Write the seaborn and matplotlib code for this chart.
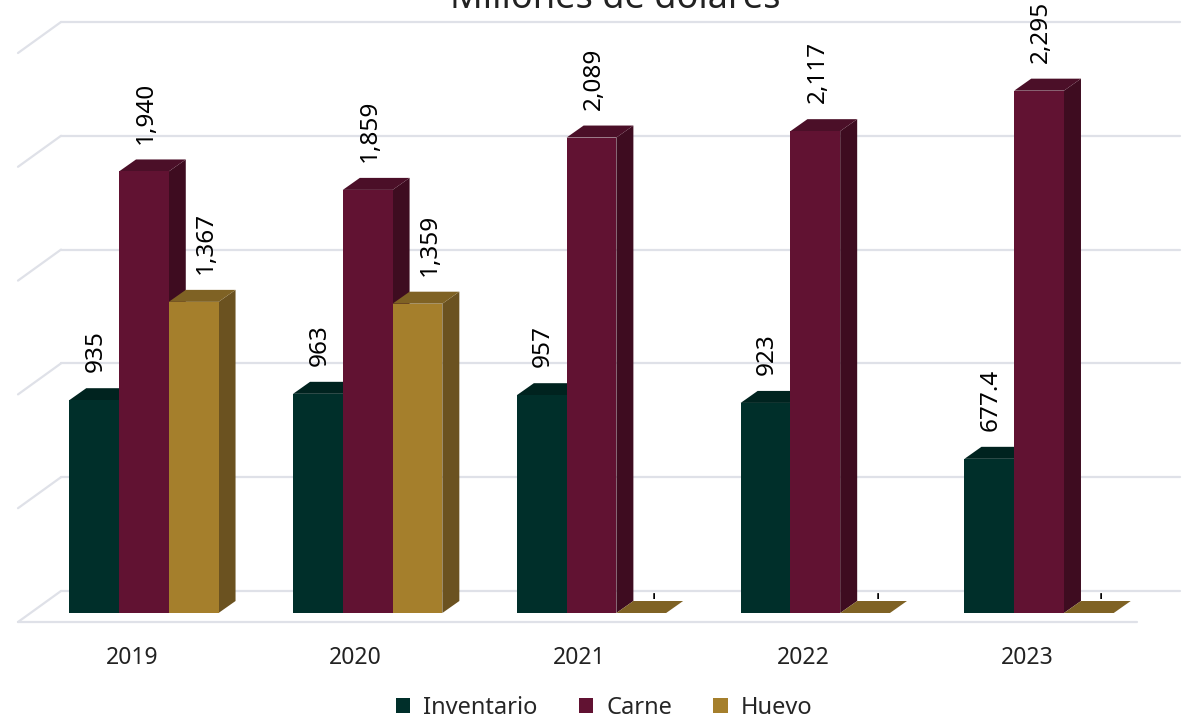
import pandas as pd
import matplotlib
matplotlib.use("Agg")
import matplotlib.pyplot as plt
from matplotlib.patches import Polygon
from matplotlib.transforms import ScaledTranslation
import seaborn as sns

# Datos (millones de dólares)
anios = ["2019", "2020", "2021", "2022", "2023"]
series = ["Inventario", "Carne", "Huevo"]
inventario = [935, 963, 957, 923, 677.4]
carne = [1940, 1859, 2089, 2117, 2295]
huevo = [1367, 1359, 0, 0, 0]
ticks_y = [0, 500, 1000, 1500, 2000, 2500]

# Colores: frente, lado, tapa
colores = {"Inventario": "#002f2a", "Carne": "#611232", "Huevo": "#a57f2c"}
lados = {"Inventario": "#00201d", "Carne": "#3e0c20", "Huevo": "#6b5220"}
tapas = {"Inventario": "#00231f", "Carne": "#4b0f28", "Huevo": "#7f6224"}
desp_etiqueta = {"Inventario": 1, "Carne": 1.5, "Huevo": 9}  # pt

df = pd.DataFrame({
    "anio": anios * 3,
    "serie": ["Inventario"] * 5 + ["Carne"] * 5 + ["Huevo"] * 5,
    "valor": inventario + carne + huevo,
})

sns.set_theme(style="white")
plt.rcParams["font.family"] = ["Noto Sans", "DejaVu Sans"]

fig = plt.figure(figsize=(11.94, 7.21), dpi=100)
ax = fig.add_axes([32 / 1194, 108 / 721, 1119 / 1194, 569 / 721])

sns.barplot(data=df, x="anio", y="valor", hue="serie", palette=colores,
            width=0.667, saturation=1, linewidth=0, ax=ax)

ax.set_xlim(-0.5, 4.5)
ax.set_ylim(0, 2500)

# pixeles por unidad de datos
p0 = ax.transData.transform((0, 0))
ppx = ax.transData.transform((1, 0))[0] - p0[0]
ppy = ax.transData.transform((0, 1))[1] - p0[1]

dxb, dyb = 17 / ppx, 12 / ppy      # profundidad de la barra
bx, by = 29 / ppx, 22 / ppy        # pared del fondo
fx, fy = -14 / ppx, -9 / ppy       # borde frontal del piso

# rejilla en "perspectiva"
gris = "#dfe1e8"
for v in ticks_y:
    ax.plot([-0.5 + bx, 4.5 + bx], [v + by, v + by], color=gris, lw=1.6,
            clip_on=False, zorder=0.5)
    ax.plot([-0.5 + fx, -0.5 + bx], [v + fy, v + by], color=gris, lw=1.6,
            clip_on=False, zorder=0.5)
ax.plot([-0.5 + fx, 4.5 + fx], [fy, fy], color=gris, lw=1.6,
        clip_on=False, zorder=0.5)

# caras laterales y superiores
for j, (serie, cont) in enumerate(zip(series, ax.containers)):
    for rect in cont:
        x0, w, h = rect.get_x(), rect.get_width(), rect.get_height()
        rect.set_zorder(3 + 2 * j)
        lado = Polygon([(x0 + w, 0), (x0 + w + dxb, dyb), (x0 + w + dxb, h + dyb), (x0 + w, h)],
                       closed=True, facecolor=lados[serie], edgecolor="none",
                       zorder=2 + 2 * j, clip_on=False)
        tapa = Polygon([(x0, h), (x0 + dxb, h + dyb), (x0 + w + dxb, h + dyb), (x0 + w, h)],
                       closed=True, facecolor=tapas[serie], edgecolor="none",
                       zorder=2 + 2 * j, clip_on=False)
        ax.add_patch(lado)
        ax.add_patch(tapa)
        if h == 0:
            texto, alto = "-", 11
        elif float(h).is_integer():
            texto, alto = f"{h:,.0f}", 20
        else:
            texto, alto = f"{h:,.1f}", 20
        ax.annotate(texto, (x0 + w / 2, h), xytext=(desp_etiqueta[serie], alto),
                    textcoords="offset points", rotation=90, ha="center",
                    va="bottom", fontsize=17.5, color="black", zorder=20,
                    annotation_clip=False)

ax.set_xlabel("")
ax.set_ylabel("")
ax.set_yticks([])
ax.tick_params(axis="x", length=0, pad=24, labelsize=16.5, labelcolor="#222222")
for lab in ax.get_xticklabels():
    lab.set_transform(lab.get_transform() + ScaledTranslation(-12 / 100, 0, fig.dpi_scale_trans))
for s in ax.spines.values():
    s.set_visible(False)
ax.set_facecolor("none")

sns.move_legend(ax, "center", bbox_to_anchor=(0.506, 13 / 721),
                bbox_transform=fig.transFigure, ncol=3, frameon=False,
                title=None, fontsize=17, handlelength=0.6, handleheight=0.6,
                handletextpad=0.55, columnspacing=1.75)

fig.text(0.515, 1 - 8 / 721, "Millones de dólares", ha="center", va="baseline",
         fontsize=26, color="#222222")

fig.savefig("out.png", dpi=100)
